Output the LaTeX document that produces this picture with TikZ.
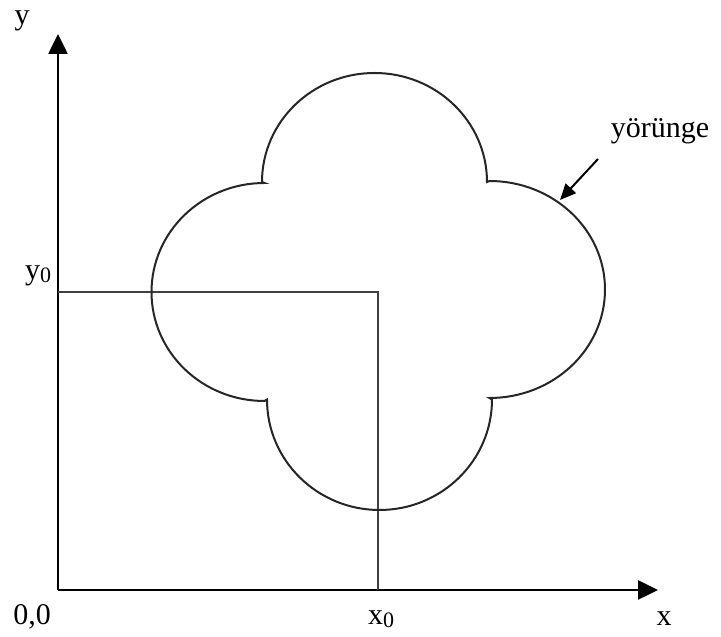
\documentclass[tikz,border=0pt]{standalone}
\usepackage{fontspec}
\setmainfont{Liberation Serif}
\usetikzlibrary{arrows.meta}
\newcommand{\subz}{\raisebox{-0.2ex}{\fontsize{22}{24}\selectfont 0}}
\begin{document}
\begin{tikzpicture}[x=1pt,y=1pt,
  axis/.style={line width=2.6pt,-{Triangle[length=20pt,width=19pt]}},
  guide/.style={line width=1.3pt,draw=black!75},
  orbit/.style={line width=2pt,draw=black!85},
  pointer/.style={line width=2pt,-{Triangle[length=16pt,width=14pt]}},
  lbl/.style={font=\fontsize{30}{32}\selectfont,inner sep=0pt}]
\useasboundingbox (0,0) rectangle (721,637);
% axes
\coordinate (O) at (58,47);
\coordinate (Xtip) at (658,47);
\coordinate (Ytip) at (58,603);
\coordinate (C) at (378,345);
\coordinate (Cy) at (58,345);
\coordinate (Cx) at (378,47);
\draw[axis] (O) -- (Xtip);
\draw[axis] (O) -- (Ytip);
% guides
\draw[guide] (Cy) -- (C) -- (Cx);
% orbit
\draw[orbit] (262,455) arc[start angle=180,end angle=0,x radius=112.5,y radius=109]
  -- (489.5,456) arc[start angle=90,end angle=-90,x radius=115.5,y radius=108.5]
  -- (492,237.5) arc[start angle=0,end angle=-180,x radius=112.5,y radius=110.5]
  -- (264.5,236) arc[start angle=-90,end angle=-270,x radius=113,y radius=109]
  -- cycle;
% labels
\node[lbl] (ly) at (22,616) {y};
\node[lbl] (ly0) at (38,361) {y\subz};
\node[lbl] (l00) at (32,20) {0,0};
\node[lbl] (lx0) at (381,18) {x\subz};
\node[lbl] (lx) at (664,18) {x};
\node[lbl] (lorb) at (660,506) {yörünge};
\coordinate (ptail) at (598,478);
\coordinate (ptip) at (560,437);
\draw[pointer] (ptail) -- (ptip);
\end{tikzpicture}
\end{document}
